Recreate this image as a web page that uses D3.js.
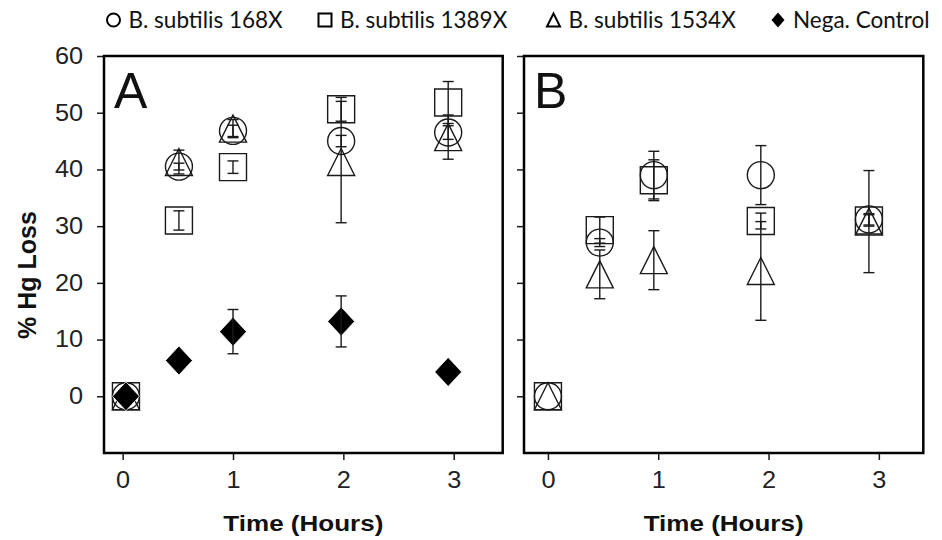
<!DOCTYPE html>
<html>
<head>
<meta charset="utf-8">
<script src="https://cdn.jsdelivr.net/npm/d3@7"></script>
<style>
  body { margin: 0; background: #fff; }
  svg { display: block; }
</style>
</head>
<body>
<svg id="chart" width="942" height="540"></svg>
<script>
// ---- data ----
const seriesNames = ["B. subtilis 168X", "B. subtilis 1389X", "B. subtilis 1534X", "Nega. Control"];
const seriesSymbols = ["circle", "square", "triangle", "diamond"];
const xTicks = [0, 1, 2, 3];
const yTicks = [0, 10, 20, 30, 40, 50, 60];

// panel A
const timesA = [0.03, 0.51, 1.0, 1.98, 2.95];
const a168 = [0, 40.5, 46.8, 45.0, 46.5];
const a168Err = [0, 0.6, 1.0, 1.0, 1.2];
const a1389 = [0, 31.0, 40.4, 50.6, 51.8];
const a1389Err = [0, 1.7, 1.1, 2.1, 3.7];
const a1534 = [0, 41.3, 47.2, 41.3, 45.7];
const a1534Err = [0, 2.1, 1.6, 10.7, 3.9];
const aNeg = [0, 6.3, 11.4, 13.2, 4.3];
const aNegErr = [0, 0, 3.9, 4.5, 0];

// panel B
const timesB = [0, 0.47, 0.96, 1.93, 2.91];
const b168 = [0, 27.1, 39.0, 39.0, 31.2];
const b168Err = [0, 0.7, 4.2, 5.2, 1.0];
const b1389 = [0, 29.3, 38.1, 30.9, 31.0];
const b1389Err = [0, 2.3, 3.6, 1.4, 1.0];
const b1534 = [0, 21.5, 24.0, 22.1, 30.8];
const b1534Err = [0, 4.3, 5.2, 8.7, 9.0];

const svg = d3.select("#chart");
const ink = "#1a1a1a";
const font = "'Liberation Sans', Arial, sans-serif";
const stretch = 1.1; // tick labels look a bit wide in the original

function markerPath(type, s) {
  // s = full marker size in px
  const h = s / 2;
  if (type === "circle") return d3.symbol(d3.symbolCircle, Math.PI * h * h)();
  if (type === "square") return `M${-h},${-h}H${h}V${h}H${-h}Z`;
  if (type === "triangle") return `M0,${-h}L${h},${h}L${-h},${h}Z`;
  return `M0,${-h - 1}L${h},0L0,${h + 1}L${-h},0Z`;
}

function styleTicks(sel) {
  sel.select(".domain").remove();
  sel.selectAll(".tick line").attr("stroke", ink).attr("stroke-width", 1.5);
  sel.selectAll(".tick text")
    .style("font-family", font)
    .style("font-size", "23px")
    .attr("fill", "#222");
}

function drawPanel(cfg) {
  const x = d3.scaleLinear().domain(cfg.xDomain).range([cfg.left, cfg.right]);
  const y = d3.scaleLinear().domain([-10, 60]).range([453, 56]);
  const g = svg.append("g");

  // axes
  const yAxis = d3.axisLeft(y).tickValues(yTicks).tickSize(7).tickSizeOuter(0);
  if (!cfg.yLabels) yAxis.tickFormat("");
  const ya = g.append("g").attr("transform", `translate(${cfg.left},0)`).call(yAxis);
  styleTicks(ya);
  ya.selectAll(".tick text")
    .attr("x", -21 / stretch)
    .attr("transform", `scale(${stretch},1)`);

  const xa = g.append("g").attr("transform", "translate(0,453)")
    .call(d3.axisBottom(x).tickValues(xTicks).tickFormat(d3.format("d")).tickSize(7).tickSizeOuter(0).tickPadding(12));
  styleTicks(xa);
  xa.selectAll(".tick text").attr("transform", `scale(${stretch},1)`);

  // frame
  g.append("rect")
    .attr("x", cfg.left).attr("y", 56)
    .attr("width", cfg.right - cfg.left).attr("height", 453 - 56)
    .attr("fill", "none").attr("stroke", "#000").attr("stroke-width", 2.5);

  // panel letter
  g.append("text")
    .attr("x", cfg.left + 10).attr("y", 108)
    .style("font-family", font).style("font-size", "50px")
    .attr("fill", "#111")
    .text(cfg.letter);

  // axis title
  g.append("text")
    .attr("x", (cfg.left + cfg.right) / 2 - 80).attr("y", 531)
    .attr("textLength", 160).attr("lengthAdjust", "spacingAndGlyphs")
    .style("font-family", font).style("font-size", "22px").style("font-weight", "bold")
    .attr("fill", "#111")
    .text("Time (Hours)");

  // series
  cfg.series.forEach(s => {
    const pts = cfg.times.map((t, i) => ({t: t, v: s.values[i], e: s.errs[i]}));
    const sg = g.append("g");
    sg.selectAll("path.mark").data(pts).join("path")
      .attr("class", "mark")
      .attr("transform", d => `translate(${x(d.t)},${y(d.v)})`)
      .attr("d", markerPath(s.symbol, 27))
      .attr("fill", s.symbol === "diamond" ? "#000" : "none")
      .attr("stroke", s.symbol === "diamond" ? "#fff" : ink)
      .attr("stroke-width", s.symbol === "diamond" ? 0.8 : 1.4);
    const eb = pts.filter(d => d.e > 0);
    sg.selectAll("line.err").data(eb).join("line")
      .attr("class", "err")
      .attr("x1", d => x(d.t)).attr("x2", d => x(d.t))
      .attr("y1", d => y(d.v - d.e)).attr("y2", d => y(d.v + d.e))
      .attr("stroke", ink).attr("stroke-width", 1.4);
    [-1, 1].forEach(sign => {
      sg.selectAll("line.cap" + (sign > 0 ? "u" : "d")).data(eb).join("line")
        .attr("class", "cap" + (sign > 0 ? "u" : "d"))
        .attr("x1", d => x(d.t) - 5.5).attr("x2", d => x(d.t) + 5.5)
        .attr("y1", d => y(d.v + sign * d.e)).attr("y2", d => y(d.v + sign * d.e))
        .attr("stroke", ink).attr("stroke-width", 1.4);
    });
  });
}

drawPanel({
  letter: "A", left: 104, right: 502.7, xDomain: [-0.169, 3.444], yLabels: true,
  times: timesA,
  series: [
    {symbol: "circle", values: a168, errs: a168Err},
    {symbol: "square", values: a1389, errs: a1389Err},
    {symbol: "triangle", values: a1534, errs: a1534Err},
    {symbol: "diamond", values: aNeg, errs: aNegErr}
  ]
});

drawPanel({
  letter: "B", left: 524, right: 923.3, xDomain: [-0.217, 3.403], yLabels: false,
  times: timesB,
  series: [
    {symbol: "circle", values: b168, errs: b168Err},
    {symbol: "square", values: b1389, errs: b1389Err},
    {symbol: "triangle", values: b1534, errs: b1534Err}
  ]
});

// y axis title
svg.append("text")
  .attr("transform", "translate(36,275) rotate(-90)")
  .attr("text-anchor", "middle")
  .style("font-family", font).style("font-size", "25px").style("font-weight", "bold")
  .attr("fill", "#111")
  .text("% Hg Loss");

// legend
const legendX = [113.5, 325, 553.5, 778];
const legend = svg.append("g");
seriesNames.forEach((name, i) => {
  const sym = seriesSymbols[i];
  legend.append("path")
    .attr("transform", `translate(${legendX[i]},20)`)
    .attr("d", markerPath(sym, 13))
    .attr("fill", sym === "diamond" ? "#000" : "none")
    .attr("stroke", sym === "diamond" ? "none" : "#000")
    .attr("stroke-width", 2);
  legend.append("text")
    .attr("x", legendX[i] + 15).attr("y", 28)
    .style("font-family", "Lato, 'Open Sans', sans-serif").style("font-size", "22.5px")
    .attr("fill", "#111")
    .text(name);
});
</script>
</body>
</html>
